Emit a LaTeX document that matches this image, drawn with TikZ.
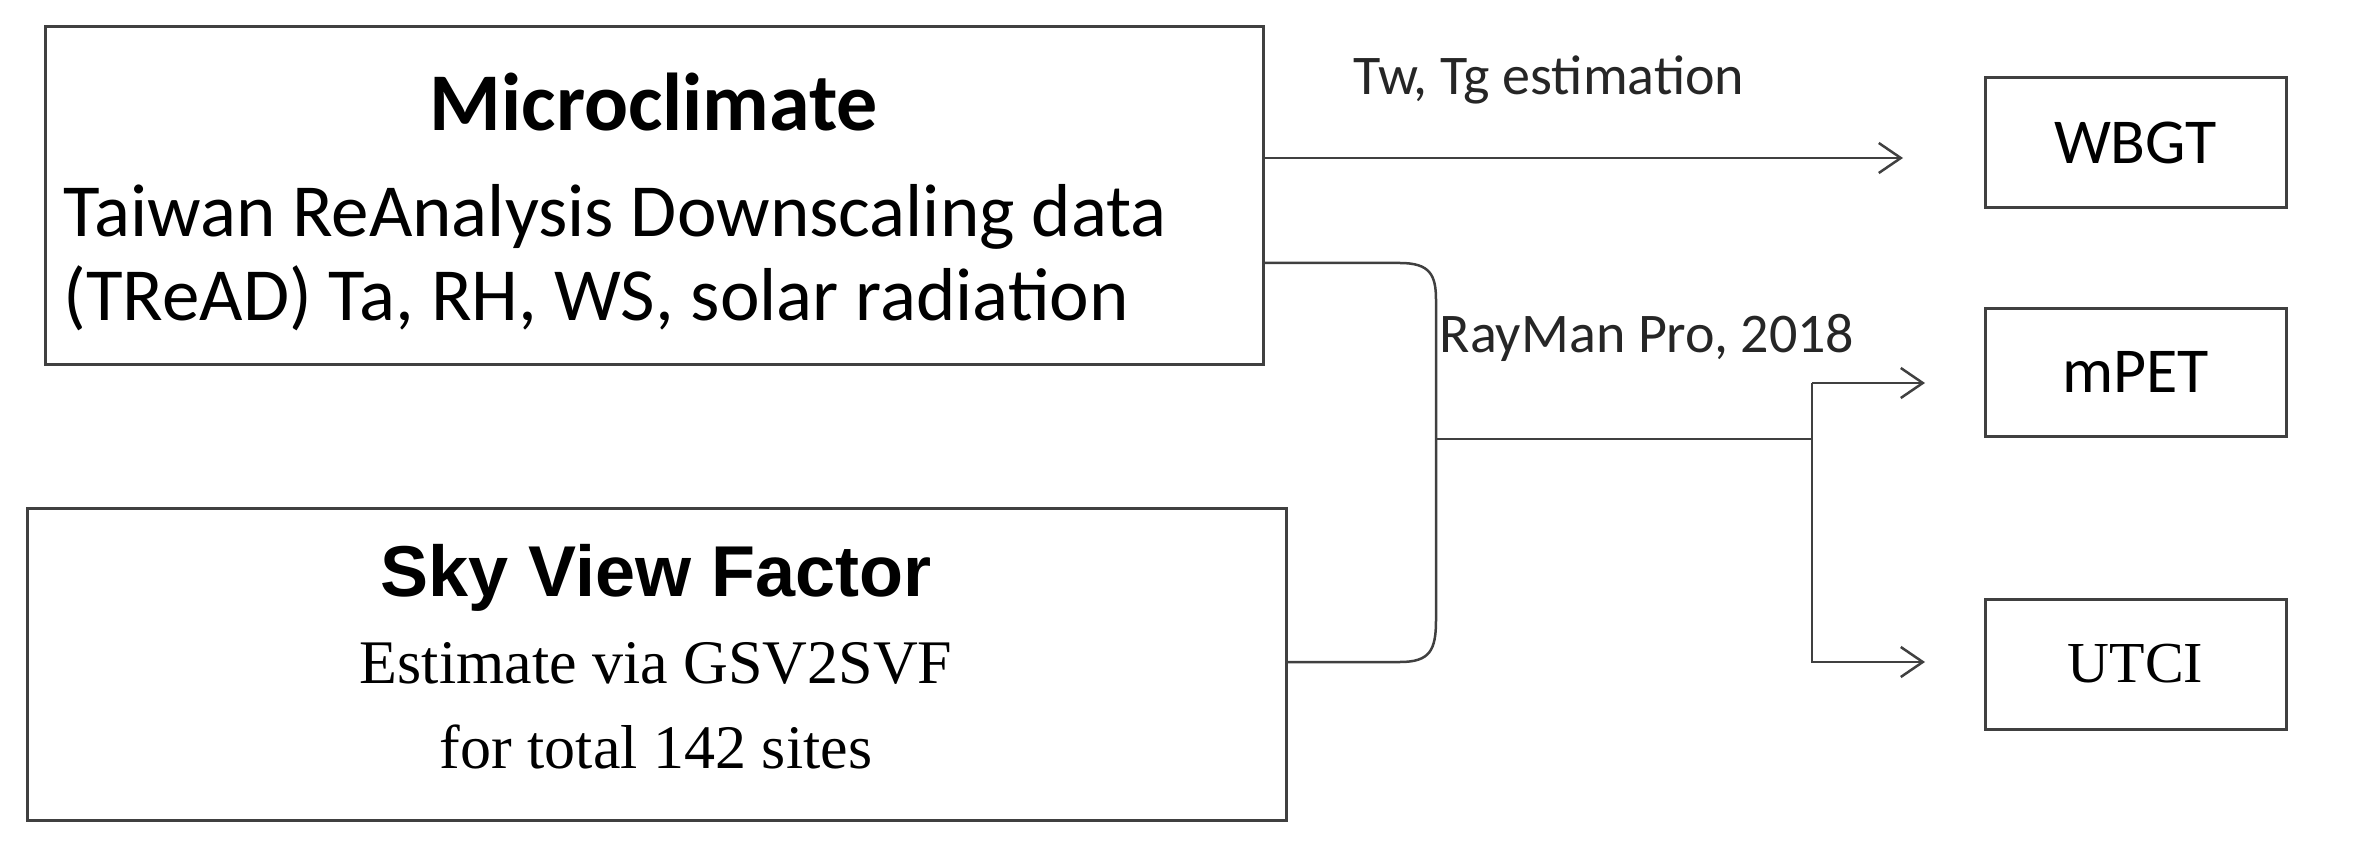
\documentclass[tikz,border=0pt]{standalone}
\usepackage{fontspec}
\setmainfont{Carlito}
\newfontfamily\arialf{Liberation Sans}
\newfontfamily\serff{Liberation Serif}
\usetikzlibrary{arrows.meta}
\begin{document}
\begin{tikzpicture}[x=1pt,y=-1pt,
  box/.style={draw=black!75,line width=3pt,inner sep=0pt},
  conn/.style={draw=black!75,line width=2.5pt},
  arr/.style={conn,-{Straight Barb[length=22pt,width=30pt,line width=2.5pt]}},
  lab/.style={font=\fontsize{56}{60}\selectfont,text=black!85}]
\useasboundingbox (0,0) rectangle (2358,842);
\node[box,minimum width=1218pt,minimum height=337pt] (mc) at (654,195.5) {};
\node[font=\fontsize{82}{86}\selectfont\bfseries] (mct) at (654,102) {Microclimate};
\node[anchor=west,align=left,font=\fontsize{75}{84}\selectfont] (mcb) at (60,258) {Taiwan ReAnalysis Downscaling data\\(TReAD) Ta, RH, WS, solar radiation};
\node[box,minimum width=1259pt,minimum height=312pt] (svf) at (656.5,664) {};
\node[font=\fontsize{72}{76}\selectfont\arialf\bfseries] (svft) at (656,578) {Sky View Factor};
\node[align=center,font=\fontsize{62}{85}\selectfont\serff] (svfb) at (656,706) {Estimate via GSV2SVF\\for total 142 sites};
\node[box,minimum width=301pt,minimum height=130pt,font=\fontsize{64}{70}\selectfont] (wbgt) at (2135.5,143) {WBGT};
\node[box,minimum width=301pt,minimum height=128pt,font=\fontsize{64}{70}\selectfont] (mpet) at (2135.5,372) {mPET};
\node[box,minimum width=301pt,minimum height=130pt,font=\fontsize{58}{64}\selectfont\serff] (utci) at (2135.5,664) {UTCI};
\coordinate (a1) at (1903,158);
\draw[arr] (mc.east |- a1) -- (a1);
\node[lab] (l1) at (1549,80) {Tw, Tg estimation};
\coordinate (b1) at (1400,263);
\coordinate (b2) at (1400,662);
\coordinate (j) at (1436,439);
\coordinate (k) at (1812,439);
\coordinate (t1) at (1925,383);
\coordinate (t2) at (1925,662);
\draw[conn] (mc.east |- b1) -- (b1) .. controls (1430,263) and (1436,275) .. (1436,300)
  -- (1436,620) .. controls (1436,650) and (1430,662) .. (b2) -- (svf.east |- b2);
\draw[conn] (j) -- (k);
\draw[arr] (k |- t1) -- (t1);
\draw[arr] (k |- t1) -- (k |- t2) -- (t2);
\node[lab] (l2) at (1647,338) {RayMan Pro, 2018};
\end{tikzpicture}
\end{document}
